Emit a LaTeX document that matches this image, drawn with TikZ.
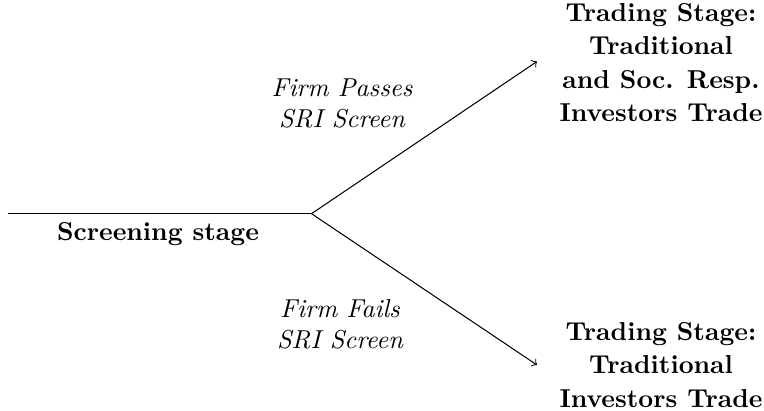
\documentclass[tikz,border=0pt]{standalone}
\begin{document}
\begin{tikzpicture}[x=0.386pt,y=-0.386pt,
  lbl/.style={inner sep=0pt,align=center,font=\itshape},
  stage/.style={inner sep=0pt,align=center,font=\bfseries\fontsize{10}{12.9}\selectfont},
  conn/.style={line width=0.4pt}]
\useasboundingbox (0,0) rectangle (764,411);
\coordinate (start) at (8,213.7);
\coordinate (fork) at (311.5,213.7);
\coordinate (upend) at (537,61.5);
\coordinate (downend) at (537,365);
\draw[conn] (start) -- (fork);
\draw[conn,->] (fork) -- (upend);
\draw[conn,->] (fork) -- (downend);
\node[stage] (screen) at (158,234) {Screening stage};
\node[lbl] (pass) at (342,103) {Firm Passes\\SRI Screen};
\node[lbl] (fail) at (340,324) {Firm Fails\\SRI Screen};
\node[stage] (tradeup) at (661,62.5) {Trading Stage:\\Traditional\\and Soc. Resp.\\Investors Trade};
\node[stage] (tradedown) at (661,365) {Trading Stage:\\Traditional\\Investors Trade};
\end{tikzpicture}
\end{document}
